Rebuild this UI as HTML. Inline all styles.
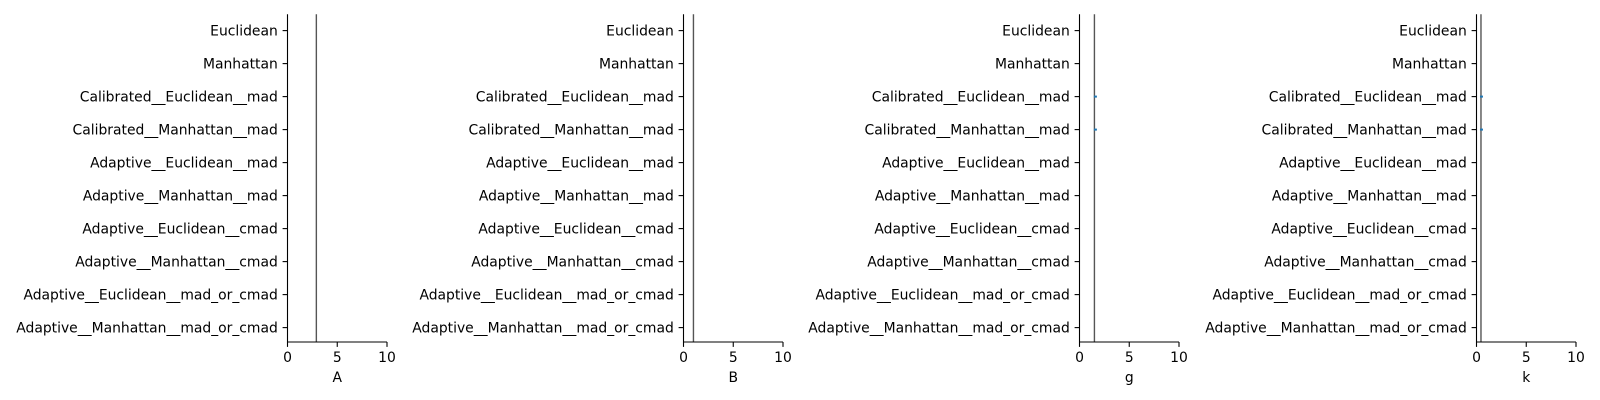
<!DOCTYPE html>
<html><head><meta charset="utf-8">
<style>body{margin:0;background:#fff}svg{display:block;font-family:"DejaVu Sans","Liberation Sans",sans-serif}</style>
</head><body>
<svg id="chart" width="1600" height="400"></svg>
<script>
const categories=["Euclidean","Manhattan","Calibrated__Euclidean__mad","Calibrated__Manhattan__mad","Adaptive__Euclidean__mad","Adaptive__Manhattan__mad","Adaptive__Euclidean__cmad","Adaptive__Manhattan__cmad","Adaptive__Euclidean__mad_or_cmad","Adaptive__Manhattan__mad_or_cmad"];
const panelNames=["A","B","g","k"];
const refValues=[2.9,1.0,1.5,0.45];
const gPoints=[null,null,1.6,1.6,null,null,null,null,null,null];
const kPoints=[null,null,0.5,0.5,null,null,null,null,null,null];
const pointSets=[[],[],gPoints,kPoints];
const xTicks=[0,5,10];
const NS="http://www.w3.org/2000/svg";
const svg=document.getElementById('chart');
const lefts=[287.5,683.5,1079.5,1476.5];
const W=99.5,yTop=14.3,yBot=342;
function mk(t,a,p){const e=document.createElementNS(NS,t);for(const k in a)e.setAttribute(k,a[k]);(p||svg).appendChild(e);return e;}
function yPos(i){return 30.6+i*33;}
panelNames.forEach((nm,p)=>{
 const x0=lefts[p];const xs=v=>x0+v/10*W;
 const g=mk('g',{});
 
 
 const l=mk('line',{x1:xs(refValues[p]),x2:xs(refValues[p]),y1:yTop,y2:yBot,stroke:'#555','stroke-width':1.4},g);
 
 
 mk('line',{x1:x0,x2:x0,y1:yTop,y2:yBot,stroke:'#000','stroke-width':1.1},g);
 mk('line',{x1:x0,x2:x0+W,y1:yBot,y2:yBot,stroke:'#000','stroke-width':1.1},g);
 categories.forEach((c,i)=>{
  const y=yPos(i);
  mk('line',{x1:x0-4.9,x2:x0,y1:y,y2:y,stroke:'#000','stroke-width':1.1},g);
  const t=mk('text',{x:x0-9.7,y:y+5,'text-anchor':'end','font-size':13.9},g);
  t.textContent=c;
  
  
  const v=pointSets[p][i];
  if(v!=null){const m=mk('line',{x1:xs(v)-1.5,x2:xs(v)+1.5,y1:y,y2:y,stroke:'#1f77b4','stroke-width':2},g);
   
   }
 });
 xTicks.forEach(v=>{
  mk('line',{x1:xs(v),x2:xs(v),y1:yBot,y2:yBot+4.9,stroke:'#000','stroke-width':1.1},g);
  const t=mk('text',{x:xs(v),y:yBot+20,'text-anchor':'middle','font-size':13.9},g);
  t.textContent=v;
  
  
 });
 const xt=mk('text',{x:x0+W/2,y:yBot+40,'text-anchor':'middle','font-size':13.9},g);
 xt.textContent=nm;
 
 
});
</script>
</body></html>
